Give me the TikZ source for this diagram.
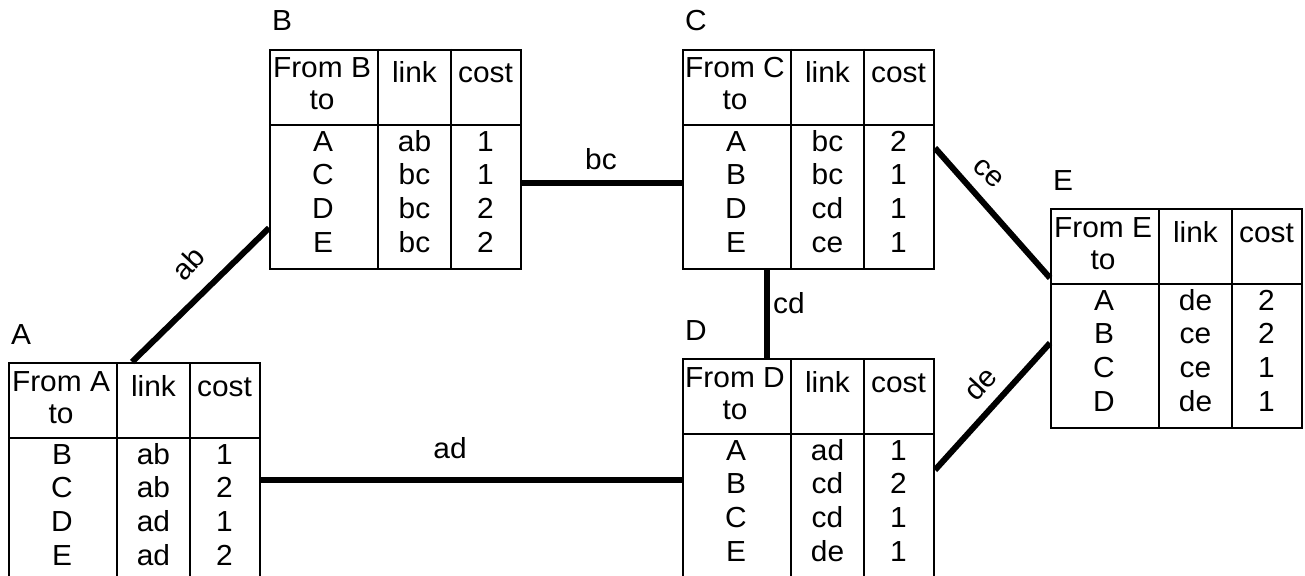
\documentclass[tikz,border=0pt]{standalone}
\usepackage{fontspec}
\setmainfont{Liberation Sans}[FakeStretch=1.03]
\usetikzlibrary{calc}
\tikzset{
  tbox/.style={draw, line width=2pt, minimum width=251pt, minimum height=219pt, inner sep=0pt, anchor=north west},
  rulel/.style={line width=2pt},
  txt/.style={font=\fontsize{29}{33}\selectfont, inner sep=0pt, anchor=base},
  tlabel/.style={txt, anchor=base west},
  linkline/.style={line width=6pt},
  elabel/.style={font=\fontsize{29}{33}\selectfont, inner sep=0pt, anchor=center},
}
\newcommand\rtab[5]{%
  \node[tbox] (#1) at (#2,#3) {};
  \node[tlabel] (#1-lab) at ($(#1.north west)+(3,-18)$) {#4};
  \draw[rulel] ($(#1.north west)+(109,0)$) -- ($(#1.south west)+(109,0)$);
  \draw[rulel] ($(#1.north west)+(182,0)$) -- ($(#1.south west)+(182,0)$);
  \draw[rulel] ($(#1.north west)+(0,76)$) -- ($(#1.north east)+(0,76)$);
  \node[txt] (#1-h1) at ($(#1.north west)+(53,29)$) {From #4};
  \node[txt] (#1-h2) at ($(#1.north west)+(53,61)$) {to};
  \node[txt] (#1-h3) at ($(#1.north west)+(145.5,34)$) {link};
  \node[txt] (#1-h4) at ($(#1.north west)+(216.5,34)$) {cost};
  \foreach \d/\l/\c [count=\i from 0] in {#5} {
    \node[txt] (#1-r\i-a) at ($(#1.north west)+(54,102+33.7*\i)$) {\d};
    \node[txt] (#1-r\i-b) at ($(#1.north west)+(145.5,102+33.7*\i)$) {\l};
    \node[txt] (#1-r\i-c) at ($(#1.north west)+(216.5,102+33.7*\i)$) {\c};
  }
}
\begin{document}
\begin{tikzpicture}[x=1pt,y=-1pt]
\useasboundingbox (0,0) rectangle (1305,575);
\clip (0,0) rectangle (1305,575);
\fill[white] (0,0) rectangle (1305,575);
\rtab{A}{8}{362}{A}{B/ab/1,C/ab/2,D/ad/1,E/ad/2}
\rtab{B}{269}{49}{B}{A/ab/1,C/bc/1,D/bc/2,E/bc/2}
\rtab{C}{682}{49}{C}{A/bc/2,B/bc/1,D/cd/1,E/ce/1}
\rtab{D}{682}{358}{D}{A/ad/1,B/cd/2,C/cd/1,E/de/1}
\rtab{E}{1050}{208}{E}{A/de/2,B/ce/2,C/ce/1,D/de/1}
% links
\draw[linkline] ($(A.north west)+(124,0)$) -- ($(B.north west)+(0,179)$);
\draw[linkline] ($(B.north east)+(0,134)$) -- ($(C.north west)+(0,134)$);
\draw[linkline] ($(C.south west)+(85,0)$) -- ($(D.north west)+(85,0)$);
\draw[linkline] ($(C.north east)+(0,99)$) -- ($(E.north west)+(0,70)$);
\draw[linkline] ($(A.north east)+(0,118)$) -- ($(D.north west)+(0,122)$);
\draw[linkline] ($(D.north east)+(0,112)$) -- ($(E.north west)+(0,135)$);
% link labels
\node[elabel, rotate=47] (lab-ab) at (188,263) {ab};
\node[elabel] (lab-bc) at (601,159) {bc};
\node[elabel] (lab-cd) at (789,303) {cd};
\node[elabel, rotate=-42] (lab-ce) at (988,173) {ce};
\node[elabel] (lab-ad) at (450,448) {ad};
\node[elabel, rotate=47] (lab-de) at (980,383) {de};
\end{tikzpicture}
\end{document}
